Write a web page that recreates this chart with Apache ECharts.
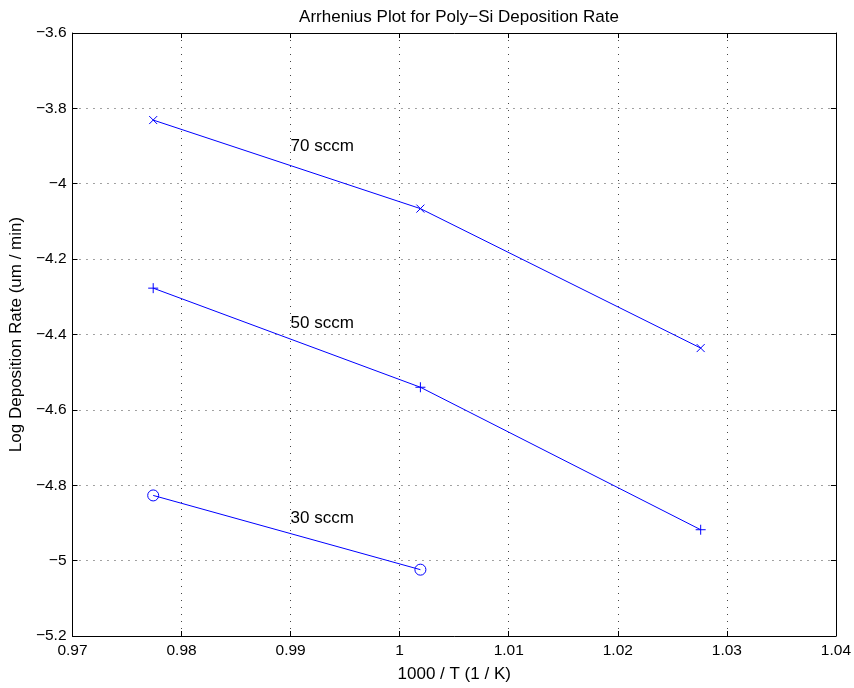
<!DOCTYPE html>
<html>
<head>
<meta charset="utf-8">
<script src="https://cdn.jsdelivr.net/npm/echarts@6/dist/echarts.min.js"></script>
<style>html,body{margin:0;padding:0;background:#fff;}#chart{width:854px;height:688px;}</style>
</head>
<body>
<div id="chart"></div>
<script>
// Data (x = 1000 / T in 1/K, y = log deposition rate)
var invTemp = [0.9774, 1.0019, 1.0276];
var rate70 = [-3.831, -4.066, -4.436];
var rate50 = [-4.277, -4.540, -4.918];
var rate30 = [-4.827, -5.024];
var seriesNames = ['70 sccm', '50 sccm', '30 sccm'];
var labelX = [0.99, 0.99, 0.99];
var labelY = [-3.90, -4.37, -4.887];

var FONT = '"Liberation Sans", Arial, Helvetica, sans-serif';
var BLUE = '#0000ff';
var TICK_FS = 15.5;
var TEXT_FS = 17;

function fmtNum(v) {
  var s = String(Math.round(v * 1000) / 1000);
  return s.replace('-', '\u2212');
}

var gridLine = { show: true, lineStyle: { color: '#444', width: 1, type: [1, 6] } };

function mainAxis(extra) {
  return Object.assign({
    type: 'value',
    axisLine: { show: true, onZero: false, lineStyle: { color: '#000', width: 1 } },
    axisTick: { show: true, inside: true, length: 5, lineStyle: { color: '#000' } },
    splitLine: gridLine,
    nameTextStyle: { color: '#000', fontSize: TEXT_FS, fontFamily: FONT }
  }, extra);
}
function mirrorAxis(extra) {
  return Object.assign({
    type: 'value',
    axisLine: { show: true, onZero: false, lineStyle: { color: '#000', width: 1 } },
    axisTick: { show: true, inside: true, length: 5, lineStyle: { color: '#000' } },
    axisLabel: { show: false },
    splitLine: { show: false }
  }, extra);
}

var markerX = 'path://M0,0L10,10M10,0L0,10';
var markerPlus = 'path://M5,0L5,10M0,5L10,5';
var markerCircle = 'path://M10,5A5,5 0 1 1 0,5A5,5 0 1 1 10,5Z';

function lineSeries(name, xs, ys, symbol, size, fill) {
  return {
    name: name,
    type: 'line',
    data: ys.map(function (y, i) { return [xs[i], y]; }),
    symbol: symbol,
    symbolSize: size,
    symbolKeepAspect: true,
    showSymbol: true,
    lineStyle: { color: BLUE, width: 1 },
    itemStyle: { color: fill, borderColor: BLUE, borderWidth: 1 },
    emphasis: { disabled: true },
    animation: false,
    z: 3
  };
}

var option = {
  animation: false,
  backgroundColor: '#fff',
  title: {
    text: 'Arrhenius Plot for Poly\u2212Si Deposition Rate',
    left: 454,
    textAlign: 'center',
    top: 4,
    textStyle: { color: '#000', fontSize: TEXT_FS, fontWeight: 'normal', fontFamily: FONT }
  },
  grid: { left: 71, right: 17, top: 33, bottom: 52, containLabel: false },
  xAxis: [
    mainAxis({ position: 'bottom', min: 0.97, max: 1.04, interval: 0.01,
      name: '1000 / T (1 / K)', nameLocation: 'middle', nameGap: 30,
      axisLabel: { color: '#000', fontSize: TICK_FS, fontFamily: FONT, margin: 7, formatter: fmtNum } }),
    mirrorAxis({ position: 'top', min: 0.97, max: 1.04, interval: 0.01 })
  ],
  yAxis: [
    mainAxis({ position: 'left', min: -5.2, max: -3.6, interval: 0.2,
      name: 'Log Deposition Rate (um / min)', nameLocation: 'middle', nameGap: 42,
      axisLabel: { color: '#000', fontSize: TICK_FS, fontFamily: FONT, margin: 6, formatter: fmtNum } }),
    mirrorAxis({ position: 'right', min: -5.2, max: -3.6, interval: 0.2 })
  ],
  series: [
    lineSeries(seriesNames[0], invTemp, rate70, markerX, 8, BLUE),
    lineSeries(seriesNames[1], invTemp, rate50, markerPlus, 10, BLUE),
    lineSeries(seriesNames[2], invTemp, rate30, markerCircle, 11, 'rgba(0,0,0,0)'),
    {
      type: 'scatter',
      data: seriesNames.map(function (n, i) { return { name: n, value: [labelX[i], labelY[i]] }; }),
      symbolSize: 0,
      itemStyle: { opacity: 1, color: 'rgba(0,0,0,0)' },
      label: {
        show: true, position: 'right', distance: 0, formatter: '{b}',
        color: '#000', fontSize: TEXT_FS, fontFamily: FONT, align: 'left', verticalAlign: 'middle'
      },
      emphasis: { disabled: true },
      silent: true,
      animation: false
    }
  ]
};

var chart = echarts.init(document.getElementById('chart'), null, { renderer: 'canvas' });
chart.setOption(option);
</script>
</body>
</html>
